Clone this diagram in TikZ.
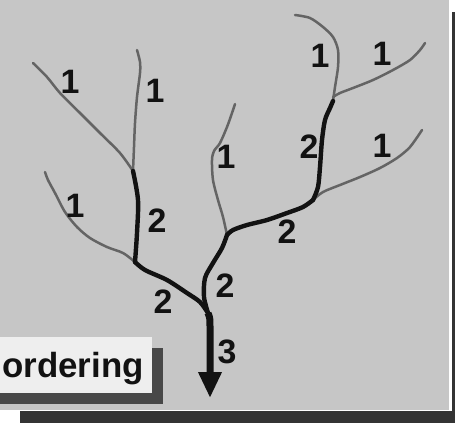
\documentclass[tikz,border=0pt]{standalone}
\usepackage{fontspec}
\setmainfont{Liberation Sans}
\usetikzlibrary{arrows.meta}
\definecolor{panel}{RGB}{198,198,198}
\definecolor{shadowc}{RGB}{52,52,52}
\definecolor{boxshadow}{RGB}{72,72,72}
\definecolor{boxfill}{RGB}{238,238,238}
\definecolor{ordone}{RGB}{100,100,100}
\definecolor{ordtwo}{RGB}{18,18,18}
\tikzset{
  ord1/.style={draw=ordone,line width=2.5bp,line cap=round,line join=round},
  ord2/.style={draw=ordtwo,line width=4.4bp,line cap=round,line join=round},
  ord3/.style={draw=ordtwo,line width=7bp,-{Triangle[length=26bp,width=22bp]}},
  lab/.style={font=\fontsize{34}{34}\selectfont\bfseries,text=ordtwo,inner sep=0pt,anchor=base},
}
\begin{document}
\begin{tikzpicture}[x=1bp,y=-1bp]
\useasboundingbox (0,0) rectangle (455,423);
\clip (0,0) rectangle (455,423);
% frame
\fill[white] (0,0) rectangle (455,423);
\fill[panel] (0,0) rectangle (449,410);
\fill[shadowc] (452,12) rectangle (455,423);
\fill[shadowc] (20,411) rectangle (455,423);
% junctions and tips
\coordinate (O) at (208,313);
\coordinate (A) at (135,262);
\coordinate (B) at (133,171);
\coordinate (C) at (227,235);
\coordinate (D) at (313,200);
\coordinate (E) at (333,101);
\coordinate (T) at (210,398);
\coordinate (t1) at (33,63);
\coordinate (t2) at (137,50);
\coordinate (t3) at (45,172);
\coordinate (t4) at (235,104);
\coordinate (t5) at (295,15);
\coordinate (t6) at (425,43);
\coordinate (t7) at (422,130);
% order 1
\draw[ord1] plot[smooth] coordinates {(B) (120,153) (100,133) (80,113) (60,93) (47,77) (t1)};
\draw[ord1] plot[smooth] coordinates {(B) (134,147) (135,123) (137,97) (140,73) (140,62) (t2)};
\draw[ord1] plot[smooth] coordinates {(A) (123,253) (107,247) (90,238) (77,227) (65,212) (55,193) (48,180) (t3)};
\draw[ord1] plot[smooth] coordinates {(C) (223,217) (218,200) (213,180) (212,160) (214,151) (220,143) (227,127) (232,113) (t4)};
\draw[ord1] plot[smooth] coordinates {(E) (335,87) (338,67) (338,50) (333,37) (323,27) (310,18) (t5)};
\draw[ord1] plot[smooth] coordinates {(333,97) (340,93) (353,88) (373,80) (393,70) (410,60) (420,50) (t6)};
\draw[ord1] plot[smooth] coordinates {(D) (323,192) (340,185) (360,177) (380,168) (397,158) (410,147) (t7)};
% order 2
\draw[ord2] plot[smooth] coordinates {(O) (200,302) (187,293) (167,280) (145,270) (A)};
\draw[ord2] plot[smooth] coordinates {(A) (137,233) (138,200) (B)};
\draw[ord2] plot[smooth] coordinates {(O) (204,297) (205,278) (213,263) (222,248) (C)};
\draw[ord2] plot[smooth] coordinates {(C) (233,230) (247,225) (267,220) (287,213) (303,207) (D)};
\draw[ord2] plot[smooth] coordinates {(D) (318,187) (320,167) (322,140) (325,120) (330,108) (E)};
% order 3
\draw[ord3] (O) .. controls (210,318) .. (210,330) -- (T);
% labels
\node[lab] (l1) at (70,93) {1};
\node[lab] (l2) at (155,102) {1};
\node[lab] (l3) at (75,217) {1};
\node[lab] (l4) at (157,232) {2};
\node[lab] (l5) at (226,168) {1};
\node[lab] (l6) at (163,313) {2};
\node[lab] (l7) at (225,297) {2};
\node[lab] (l8) at (287,243) {2};
\node[lab] (l9) at (309,158) {2};
\node[lab] (l10) at (320,67) {1};
\node[lab] (l11) at (382,65) {1};
\node[lab] (l12) at (382,157) {1};
\node[lab] (l13) at (227,363) {3};
% title box
\fill[boxshadow] (0,348) rectangle (163,404);
\fill[boxfill] (0,337) rectangle (152,393);
\node[font=\fontsize{35}{35}\selectfont\bfseries,text=ordtwo,inner sep=0pt,anchor=base west] (title) at (2,377) {ordering};
\end{tikzpicture}
\end{document}
